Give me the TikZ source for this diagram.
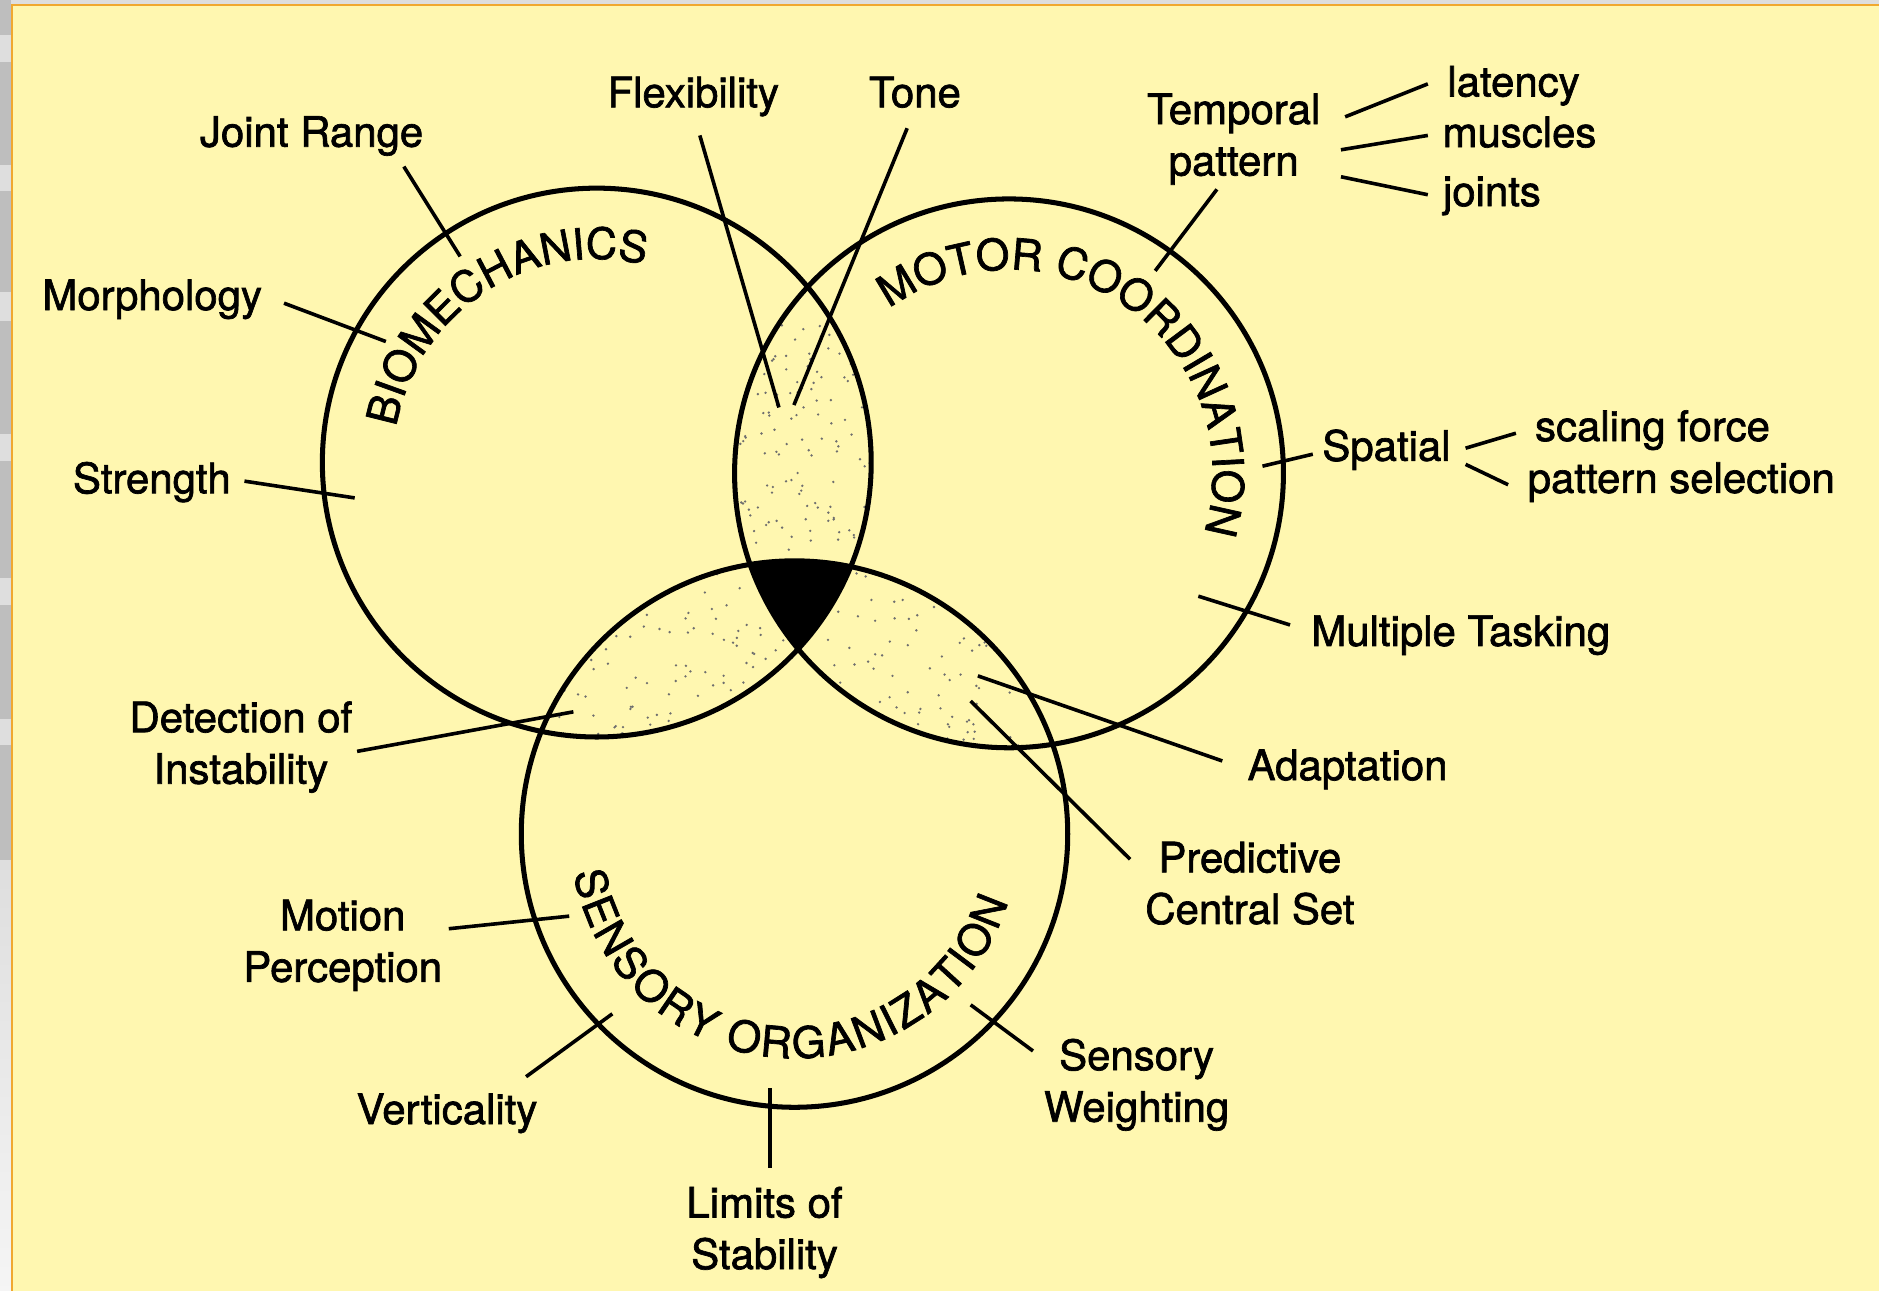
\documentclass[tikz,border=0pt]{standalone}
\usepackage{fontspec}
\setmainfont[FakeBold=1.6]{TeX Gyre Heros}
\usepackage{tikz}
\usetikzlibrary{calc,decorations.text}

\definecolor{paper}{RGB}{255,247,176}
\definecolor{frameorange}{RGB}{240,168,48}
\definecolor{stripdark}{RGB}{190,190,190}
\definecolor{striplight}{RGB}{222,222,222}
\definecolor{speck}{RGB}{110,110,110}

\newcommand{\lblfont}{\fontsize{17.5}{21.5}\selectfont}
\newcommand{\ringfont}{\fontsize{18}{20}\selectfont}

\tikzset{
  ring/.style={line width=2.1pt},
  leader/.style={line width=1.5pt},
  lbl/.style={font=\lblfont, inner sep=0pt, anchor=base, align=center},
}

\begin{document}
\begin{tikzpicture}[x=0.5pt,y=-0.5pt]
\useasboundingbox (0,0) rectangle (1568,1077);
%% screen margin and paper
\fill[striplight] (0,0) rectangle (1568,1077);
\foreach \ya/\yb in {0/29,52/138,159/244,268/362,385/482,505/600,622/718}
  \fill[stripdark] (0,\ya) rectangle (9,\yb);
\shade[top color=striplight, bottom color=white!96!black] (0,718) rectangle (9,1077);
\fill[paper] (10,4) rectangle (1568,1077);
\draw[frameorange, line width=0.9pt] (10,1077) -- (10,4) -- (1568,4);

%% circle centres
\coordinate (bioc) at (498,386);
\coordinate (motc) at (842,395);
\coordinate (senc) at (663,696);

%% stippled overlaps
\pgfmathsetseed{7}
\begin{scope}
  \clip (bioc) circle[radius=114.5pt];
  \clip (motc) circle[radius=114.5pt];
  \foreach \k in {1,...,200}
    \fill[speck] ($(670,410)+(rand*60,rand*140)$) circle[radius=0.55pt];
\end{scope}
\begin{scope}
  \clip (bioc) circle[radius=114.5pt];
  \clip (senc) circle[radius=114pt];
  \foreach \k in {1,...,300}
    \fill[speck] ($(580,541)+(rand*150,rand*150)$) circle[radius=0.55pt];
\end{scope}
\begin{scope}
  \clip (motc) circle[radius=114.5pt];
  \clip (senc) circle[radius=114pt];
  \foreach \k in {1,...,300}
    \fill[speck] ($(752,545)+(rand*150,rand*150)$) circle[radius=0.55pt];
\end{scope}
%% centre of all three
\begin{scope}
  \clip (bioc) circle[radius=114.5pt];
  \clip (motc) circle[radius=114.5pt];
  \fill[black] (senc) circle[radius=114pt];
\end{scope}

%% the three circles
\draw[ring] (bioc) circle[radius=114.5pt];
\draw[ring] (motc) circle[radius=114.5pt];
\draw[ring] (senc) circle[radius=114pt];

%% curved titles
\path[decorate, decoration={text along path, text align={fit to path},
    text={|\ringfont|BIOMECHANICS}}]
  ([shift={(170:85pt)}]bioc) arc[start angle=170, end angle=79.6, radius=85pt];
\path[decorate, decoration={text along path, text align={fit to path},
    text={|\ringfont|MOTOR COORDINATION}}]
  ([shift={(126:85pt)}]motc) arc[start angle=126, end angle=-16.6, radius=85pt];
\path[decorate, decoration={text along path, text align={fit to path},
    text={|\ringfont|SENSORY ORGANIZATION}}]
  ([shift={(190:93.5pt)}]senc) arc[start angle=190, end angle=342.4, radius=93.5pt];

%% labels (two-line labels sit on their last baseline)
\node[lbl] (jointrange) at (260,122.4) {Joint Range};
\node[lbl] (morphology) at (127,258.7) {Morphology};
\node[lbl] (strength) at (126.7,411.6) {Strength};
\node[lbl] (flexibility) at (578.5,89.5) {Flexibility};
\node[lbl] (tone) at (763.5,89.5) {Tone};
\node[lbl] (temporal) at (1029.5,146.5) {Temporal\\pattern};
\node[lbl] (latency) at (1263,80.5) {latency};
\node[lbl] (muscles) at (1268,122.8) {muscles};
\node[lbl] (joints) at (1245,172) {joints};
\node[lbl] (spatial) at (1157,384.5) {Spatial};
\node[lbl] (scaling) at (1379,368) {scaling force};
\node[lbl] (selection) at (1403,411.3) {pattern selection};
\node[lbl] (tasking) at (1219,539) {Multiple Tasking};
\node[lbl] (adaptation) at (1124.5,651) {Adaptation};
\node[lbl] (predictive) at (1043,771) {Predictive\\Central Set};
\node[lbl] (detection) at (201,654) {Detection of\\Instability};
\node[lbl] (motion) at (286,819.3) {Motion\\Perception};
\node[lbl] (verticality) at (373,938) {Verticality};
\node[lbl] (limits) at (638,1059) {Limits of\\Stability};
\node[lbl] (weighting) at (948.5,936) {Sensory\\Weighting};

%% leader ends
\coordinate (jr-a) at (337,139);    \coordinate (jr-b) at (384,214);
\coordinate (mo-a) at (237,253);    \coordinate (mo-b) at (322,285);
\coordinate (st-a) at (204,401.5);  \coordinate (st-b) at (296,415.5);
\coordinate (fl-a) at (584,113);    \coordinate (fl-b) at (650,340);
\coordinate (to-a) at (757,107);    \coordinate (to-b) at (662.5,338);
\coordinate (tp-a) at (1015.5,158); \coordinate (tp-b) at (964,226);
\coordinate (la-a) at (1122.5,97.5); \coordinate (la-b) at (1191.5,70);
\coordinate (mu-a) at (1119,125);   \coordinate (mu-b) at (1191.5,113);
\coordinate (jo-a) at (1119,147.5); \coordinate (jo-b) at (1191.5,162.5);
\coordinate (sp-a) at (1053.5,389); \coordinate (sp-b) at (1095.5,379);
\coordinate (sf-a) at (1223,374);   \coordinate (sf-b) at (1265,361.5);
\coordinate (ps-a) at (1223,387.5); \coordinate (ps-b) at (1258.5,404.5);
\coordinate (mt-a) at (1000,497.5); \coordinate (mt-b) at (1076.5,521.5);
\coordinate (ad-a) at (816,564);    \coordinate (ad-b) at (1020,635);
\coordinate (pc-a) at (810,585);    \coordinate (pc-b) at (943,717);
\coordinate (di-a) at (298,627);    \coordinate (di-b) at (478.5,594);
\coordinate (mp-a) at (374.5,775);  \coordinate (mp-b) at (475,764.5);
\coordinate (ve-a) at (439,898.5);  \coordinate (ve-b) at (511,846);
\coordinate (ls-a) at (642.5,908);  \coordinate (ls-b) at (642.5,975);
\coordinate (sw-a) at (810,838.5);  \coordinate (sw-b) at (862,877);

%% leaders
\draw[leader] (jr-a) -- (jr-b);
\draw[leader] (mo-a) -- (mo-b);
\draw[leader] (st-a) -- (st-b);
\draw[leader] (fl-a) -- (fl-b);
\draw[leader] (to-a) -- (to-b);
\draw[leader] (tp-a) -- (tp-b);
\draw[leader] (la-a) -- (la-b);
\draw[leader] (mu-a) -- (mu-b);
\draw[leader] (jo-a) -- (jo-b);
\draw[leader] (sp-a) -- (sp-b);
\draw[leader] (sf-a) -- (sf-b);
\draw[leader] (ps-a) -- (ps-b);
\draw[leader] (mt-a) -- (mt-b);
\draw[leader] (ad-a) -- (ad-b);
\draw[leader] (pc-a) -- (pc-b);
\draw[leader] (di-a) -- (di-b);
\draw[leader] (mp-a) -- (mp-b);
\draw[leader] (ve-a) -- (ve-b);
\draw[leader] (ls-a) -- (ls-b);
\draw[leader] (sw-a) -- (sw-b);
\end{tikzpicture}
\end{document}
